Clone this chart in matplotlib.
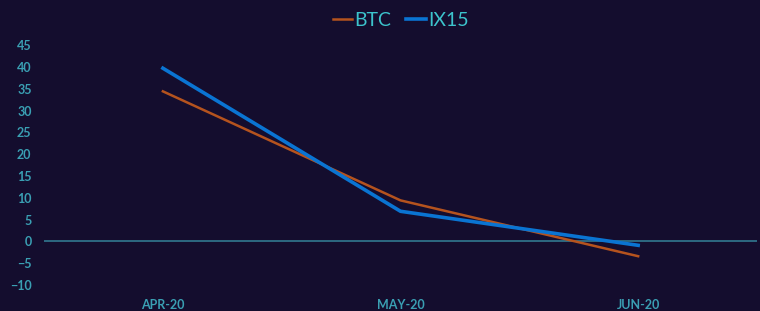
import matplotlib
matplotlib.use("Agg")
import matplotlib.pyplot as plt

# monthly values
months = ["APR-20", "MAY-20", "JUN-20"]
btc = [34.4, 9.4, -3.4]
ix15 = [39.7, 6.9, -0.9]

BG = "#140d2e"
TICK = "#3a9fb3"
ZERO = "#2f7088"
BTC_COLOR = "#b5531e"
IX15_COLOR = "#0a74d2"

plt.rcParams["font.family"] = ["Lato", "DejaVu Sans"]

fig = plt.figure(figsize=(7.6, 3.11), dpi=100)
fig.patch.set_facecolor(BG)
ax = fig.add_axes([0.058, 0.0836, 0.938, 0.7714])
ax.set_facecolor(BG)

x = range(len(months))
ax.plot(x, btc, color=BTC_COLOR, linewidth=1.8, label="BTC", zorder=3)
ax.plot(x, ix15, color=IX15_COLOR, linewidth=2.6, label="IX15", zorder=4)
ax.axhline(0, color=ZERO, linewidth=1.3, zorder=2)

ax.set_xlim(-0.5, 2.5)
ax.set_ylim(-10, 45)
ax.set_yticks(range(-10, 50, 5))
ax.set_xticks(list(x))
ax.set_xticklabels(months)

for spine in ax.spines.values():
    spine.set_visible(False)
ax.tick_params(axis="both", length=0, colors=TICK, labelsize=9)
ax.tick_params(axis="x", pad=10)
ax.tick_params(axis="y", pad=9)
for lbl in ax.get_xticklabels() + ax.get_yticklabels():
    lbl.set_fontweight("bold")
    lbl.set_color(TICK)

handles, labels = ax.get_legend_handles_labels()
leg = fig.legend(handles, labels, loc="center", bbox_to_anchor=(0.527, 0.934),
                 ncol=2, frameon=False, fontsize=14, handlelength=1.0,
                 handletextpad=0.1, columnspacing=0.8)
for t in leg.get_texts():
    t.set_color("#3cc3cc")

fig.savefig("out.png", dpi=100, facecolor=BG)
